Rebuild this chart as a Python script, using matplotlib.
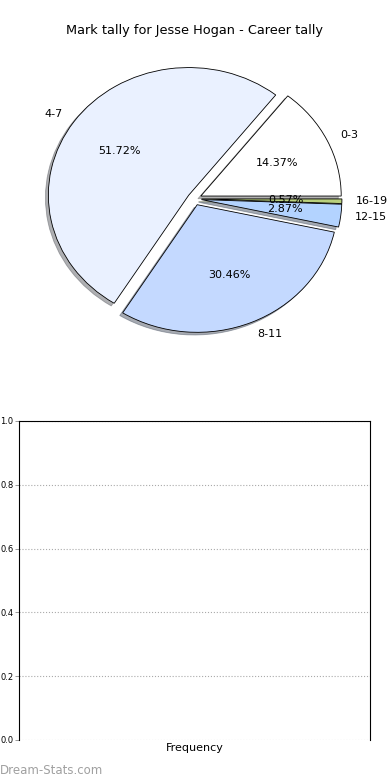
import matplotlib
matplotlib.use("Agg")
import matplotlib.pyplot as plt

categories = ["0-3", "4-7", "8-11", "12-15", "16-19"]
counts = [25, 90, 53, 5, 1]
colors = ["#ffffff", "#eaf1ff", "#c4d9ff", "#b3d3ff", "#b9d07c"]
yticks = [0.0, 0.2, 0.4, 0.6, 0.8, 1.0]
title = "Mark tally for Jesse Hogan - Career tally"

fig = plt.figure(figsize=(3.9, 7.8), dpi=100)

ax1 = fig.add_axes([0.0487, 0.5406, 0.9, 0.409])
wedges, texts, autotexts = ax1.pie(
    counts, labels=categories, colors=colors, explode=[0.05] * len(counts),
    autopct="%1.2f%%", shadow=dict(ox=-0.015, oy=-0.015, shade=0.6),
    startangle=0, counterclock=True,
    wedgeprops=dict(edgecolor="black", linewidth=0.6), textprops=dict(fontsize=8))
ax1.set_aspect("auto")
ax1.set_xlim(-1.25, 1.25)
ax1.set_ylim(-1.25, 1.25)
ax1.set_axis_off()
fig.text(0.5, 0.961, title, ha="center", va="center", fontsize=9.3)

ax2 = fig.add_axes([0.0487, 0.0513, 0.9, 0.409])
ax2.set_ylim(0, 1)
ax2.set_yticks(yticks)
ax2.set_yticklabels([f"{v:.1f}" for v in yticks], fontsize=6)
ax2.set_xticks([])
ax2.set_xlabel("Frequency", fontsize=8, labelpad=2)
ax2.yaxis.grid(True, linestyle=":", color="#aaaaaa", linewidth=0.8)
ax2.spines["bottom"].set_visible(False)
for s in ["left", "top", "right"]:
    ax2.spines[s].set_linewidth(0.8)
ax2.tick_params(axis="y", length=3, width=0.6, color="#888888", pad=1)

fig.text(0.0, 0.012, "Dream-Stats.com", ha="left", va="center", fontsize=8.5,
         color="#a0a0a0")

fig.savefig("out.png", dpi=100)
